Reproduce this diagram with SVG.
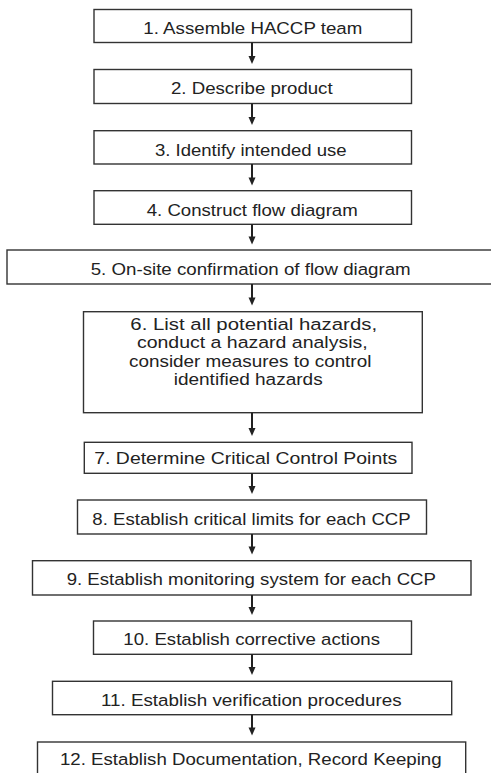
<svg xmlns="http://www.w3.org/2000/svg" width="491" height="773" viewBox="0 0 491 773">
<style>
.box{fill:#fff;stroke:#333;stroke-width:1.4}
.t{font-family:"Liberation Sans",Arial,sans-serif;font-size:16.8px;fill:#222;text-anchor:middle}
.ln{stroke:#222;stroke-width:2}
.hd{fill:#222}
</style>
<rect width="491" height="773" fill="#fff"/>
<g id="n1"><rect class="box" x="94" y="9.5" width="317.5" height="33"/><text class="t" x="252.8" y="34.3" textLength="219" lengthAdjust="spacingAndGlyphs">1. Assemble HACCP team</text></g>
<g id="n2"><rect class="box" x="94" y="69.5" width="317.5" height="34"/><text class="t" x="251.8" y="94.3" textLength="161.7" lengthAdjust="spacingAndGlyphs">2. Describe product</text></g>
<g id="n3"><rect class="box" x="94" y="130.7" width="317.5" height="33.3"/><text class="t" x="250.8" y="155.5" textLength="191.7" lengthAdjust="spacingAndGlyphs">3. Identify intended use</text></g>
<g id="n4"><rect class="box" x="94" y="190.7" width="317.5" height="33.6"/><text class="t" x="252.2" y="215.5" textLength="211" lengthAdjust="spacingAndGlyphs">4. Construct flow diagram</text></g>
<g id="n5"><rect class="box" x="7" y="250" width="500" height="34"/><text class="t" x="250.7" y="275" textLength="320" lengthAdjust="spacingAndGlyphs">5. On-site confirmation of flow diagram</text></g>
<g id="n6"><rect class="box" x="83.5" y="311.7" width="338.8" height="101"/>
<text class="t" x="253.7" y="330" textLength="246.7" lengthAdjust="spacingAndGlyphs">6. List all potential hazards,</text>
<text class="t" x="252.3" y="348.3" textLength="230.7" lengthAdjust="spacingAndGlyphs">conduct a hazard analysis,</text>
<text class="t" x="250.2" y="366.7" textLength="242.3" lengthAdjust="spacingAndGlyphs">consider measures to control</text>
<text class="t" x="248.2" y="385" textLength="149" lengthAdjust="spacingAndGlyphs">identified hazards</text></g>
<g id="n7"><rect class="box" x="84.3" y="442.3" width="327.7" height="31"/><text class="t" x="245.8" y="463.5" textLength="303" lengthAdjust="spacingAndGlyphs">7. Determine Critical Control Points</text></g>
<g id="n8"><rect class="box" x="77.5" y="500" width="349" height="34"/><text class="t" x="251.5" y="525" textLength="318.3" lengthAdjust="spacingAndGlyphs">8. Establish critical limits for each CCP</text></g>
<g id="n9"><rect class="box" x="32.5" y="560.7" width="438.5" height="34.3"/><text class="t" x="251.3" y="585.3" textLength="369.3" lengthAdjust="spacingAndGlyphs">9. Establish monitoring system for each CCP</text></g>
<g id="n10"><rect class="box" x="93.5" y="621" width="318" height="33.3"/><text class="t" x="251.7" y="645" textLength="256.7" lengthAdjust="spacingAndGlyphs">10. Establish corrective actions</text></g>
<g id="n11"><rect class="box" x="52.5" y="681.3" width="399.2" height="33.4"/><text class="t" x="251.3" y="706" textLength="300.7" lengthAdjust="spacingAndGlyphs">11. Establish verification procedures</text></g>
<g id="n12"><rect class="box" x="37.5" y="742" width="428.2" height="60"/><text class="t" x="250.8" y="765" textLength="381.7" lengthAdjust="spacingAndGlyphs">12. Establish Documentation, Record Keeping</text></g>
<g id="connectors">
<line class="ln" x1="252" y1="42.5" x2="252" y2="57"/><polygon class="hd" points="248.5,56 255.5,56 252,64"/>
<line class="ln" x1="252" y1="103.5" x2="252" y2="118"/><polygon class="hd" points="248.5,117 255.5,117 252,125"/>
<line class="ln" x1="252" y1="164" x2="252" y2="178.5"/><polygon class="hd" points="248.5,177.5 255.5,177.5 252,185.5"/>
<line class="ln" x1="252" y1="224.3" x2="252" y2="237.5"/><polygon class="hd" points="248.5,236.5 255.5,236.5 252,244.5"/>
<line class="ln" x1="252" y1="284" x2="252" y2="298.5"/><polygon class="hd" points="248.5,297.5 255.5,297.5 252,305.5"/>
<line class="ln" x1="252" y1="412.7" x2="252" y2="429"/><polygon class="hd" points="248.5,428 255.5,428 252,436"/>
<line class="ln" x1="252" y1="473.3" x2="252" y2="487"/><polygon class="hd" points="248.5,486 255.5,486 252,494"/>
<line class="ln" x1="252" y1="534" x2="252" y2="547.5"/><polygon class="hd" points="248.5,546.5 255.5,546.5 252,554.5"/>
<line class="ln" x1="252" y1="595" x2="252" y2="608"/><polygon class="hd" points="248.5,607 255.5,607 252,615"/>
<line class="ln" x1="252" y1="654.3" x2="252" y2="668"/><polygon class="hd" points="248.5,667 255.5,667 252,675"/>
<line class="ln" x1="252" y1="714.7" x2="252" y2="728.5"/><polygon class="hd" points="248.5,727.5 255.5,727.5 252,735.5"/>
</g>
</svg>
